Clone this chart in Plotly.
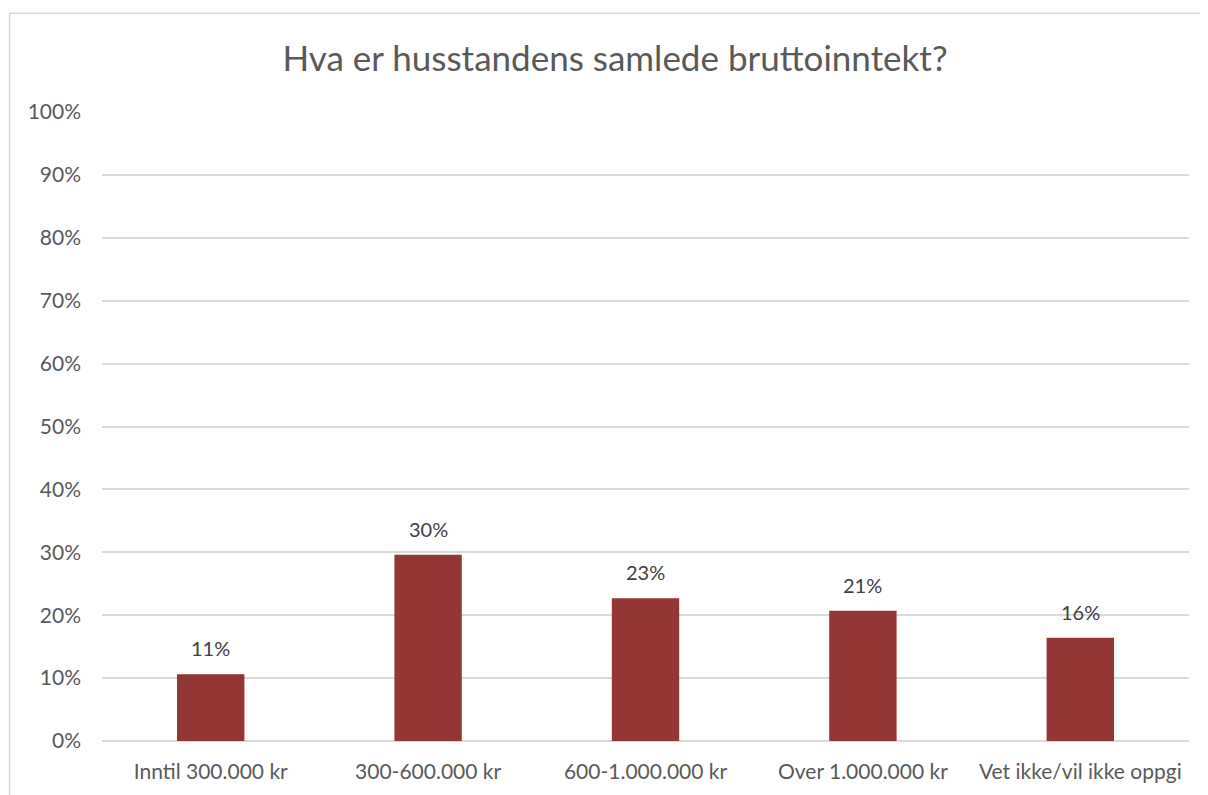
import plotly.graph_objects as go

categories = ["Inntil 300.000 kr", "300-600.000 kr", "600-1.000.000 kr",
              "Over 1.000.000 kr", "Vet ikke/vil ikke oppgi"]
values = [0.106, 0.296, 0.227, 0.207, 0.164]
title_text = "Hva er husstandens samlede bruttoinntekt?"

bar_color = "#943634"
grid_color = "#d9d9d9"
text_color = "#595959"
font_family = "Lato, 'Open Sans', sans-serif"

fig = go.Figure()
fig.add_trace(go.Bar(
    x=categories, y=values,
    marker=dict(color=bar_color, line=dict(width=0)),
    width=0.31,
    hoverinfo="skip",
))

for c, v in zip(categories, values):
    fig.add_annotation(
        x=c, y=v, text=f"{round(v*100):d}%",
        showarrow=False, yanchor="bottom", yshift=12,
        font=dict(size=20, color="#404040", family=font_family),
    )

fig.add_shape(type="rect", xref="paper", yref="paper",
              x0=-0.085, x1=1.2, y0=-0.3, y1=1.157,
              line=dict(color=grid_color, width=1.5), layer="below")

fig.update_layout(
    width=1208, height=795,
    margin=dict(l=94, r=27, t=104, b=62),
    paper_bgcolor="white", plot_bgcolor="white",
    showlegend=False,
    title=dict(text=title_text, x=0.5025, xanchor="center", y=0.936, yanchor="middle",
               font=dict(size=35, color=text_color, family=font_family)),
    font=dict(family=font_family, color=text_color, size=21),
    bargap=0.69,
)
fig.update_xaxes(showgrid=False, showline=False, zeroline=False,
                 tickfont=dict(size=21, color=text_color),
                 ticks="", ticklabelstandoff=16)
fig.update_yaxes(range=[0, 1], dtick=0.1, tickformat=".0%",
                 showgrid=True, gridcolor=grid_color, gridwidth=1.5,
                 zeroline=True, zerolinecolor=grid_color, zerolinewidth=1.5,
                 showline=False, ticks="", ticklabelstandoff=20,
                 tickfont=dict(size=21, color=text_color))

fig.write_html("out.html")
